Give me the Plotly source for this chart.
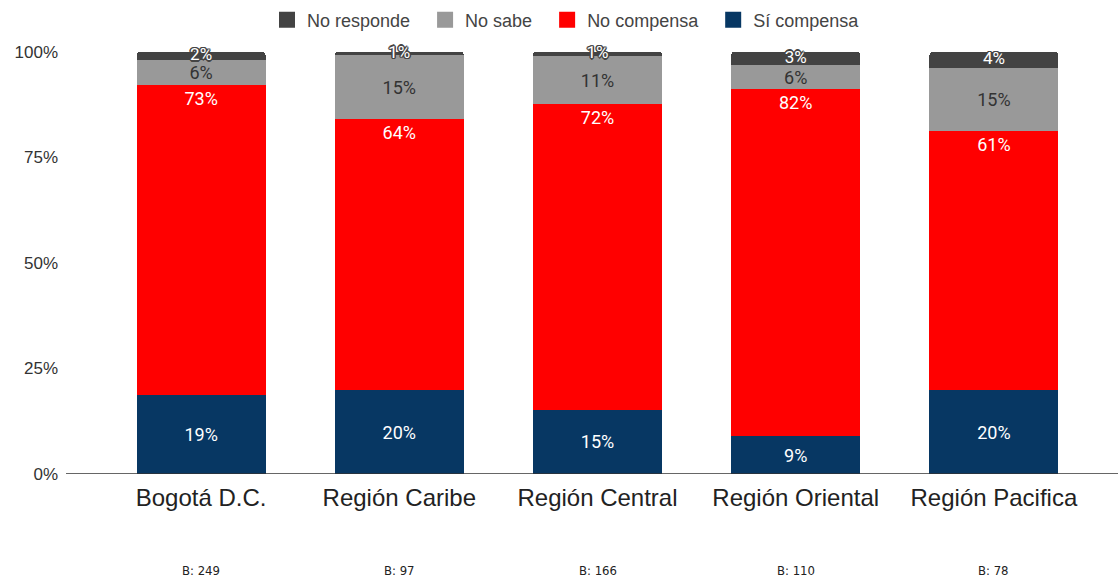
import plotly.graph_objects as go

categories = ["Bogotá D.C.", "Región Caribe", "Región Central", "Región Oriental", "Región Pacifica"]
bases = ["B: 249", "B: 97", "B: 166", "B: 110", "B: 78"]
si_compensa = [18.7, 19.9, 15.2, 9.0, 19.9]
no_compensa = [73.4, 64.2, 72.4, 82.2, 61.4]
no_sabe = [5.9, 15.2, 11.4, 5.7, 14.9]
no_responde = [2.0, 0.7, 1.0, 3.1, 3.8]

C_SI, C_NO, C_NS, C_NR = "#073763", "#ff0000", "#999999", "#434343"
LABEL_FONT = "Roboto"
LS = 18
fig = go.Figure()

fig.add_trace(go.Bar(
    x=categories, y=si_compensa, name="Sí compensa", showlegend=False,
    marker=dict(color=C_SI, line=dict(width=0)),
    texttemplate="%{y:.0f}%", textposition="inside", insidetextanchor="middle", textangle=0,
    insidetextfont=dict(family=LABEL_FONT, size=LS, color="white"),
))
fig.add_trace(go.Bar(
    x=categories, y=no_compensa, name="No compensa", showlegend=False,
    marker=dict(color=C_NO, line=dict(width=0)),
    texttemplate="%{y:.0f}%", textposition="inside", insidetextanchor="end", textangle=0,
    insidetextfont=dict(family=LABEL_FONT, size=LS, color="white"),
))
fig.add_trace(go.Bar(
    x=categories, y=no_sabe, name="No sabe", showlegend=False,
    marker=dict(color=C_NS, line=dict(width=0)),
    texttemplate="%{y:.0f}%", textposition="inside", insidetextanchor="middle", textangle=0,
    insidetextfont=dict(family=LABEL_FONT, size=LS, color="#333333"),
))
fig.add_trace(go.Bar(
    x=categories, y=no_responde, name="No responde", showlegend=False,
    marker=dict(color=C_NR, line=dict(width=0)),
    textposition="none",
))

# labels for the thin top segments, centred on the segment
mid_top = [a + b + c + d / 2 for a, b, c, d in zip(si_compensa, no_compensa, no_sabe, no_responde)]
shadow = ("1px 1px 0 #444, -1px -1px 0 #444, 1px -1px 0 #444, -1px 1px 0 #444, "
          "0 1.5px 0 #444, 0 -1.5px 0 #444, 1.5px 0 0 #444, -1.5px 0 0 #444")
fig.add_trace(go.Scatter(
    x=categories, y=mid_top, mode="text",
    text=[f"{v:.0f}%" for v in no_responde],
    textfont=dict(family=LABEL_FONT, size=17, color="white", shadow=shadow),
    showlegend=False, cliponaxis=False, hoverinfo="skip",
))

# legend entries (square swatches)
NB = "\u00a0\u00a0"
for name, col in [("No responde", C_NR), ("No sabe", C_NS), ("No compensa", C_NO), ("Sí compensa", C_SI)]:
    fig.add_trace(go.Scatter(
        x=[None], y=[None], mode="markers", name=name + NB,
        marker=dict(symbol="square", size=18, color=col, line=dict(width=0)),
        showlegend=True, hoverinfo="skip",
    ))

for c, b in zip(categories, bases):
    fig.add_annotation(x=c, y=-0.228, xref="x", yref="paper", text=b, showarrow=False,
                       font=dict(family="DejaVu Sans Condensed, Liberation Sans", size=13, color="#222"),
                       yanchor="middle")

fig.add_shape(type="line", xref="paper", yref="y", x0=-0.0363, x1=1.03, y0=0, y1=0,
              line=dict(color="#333333", width=1.3))

fig.update_layout(
    width=1118, height=579,
    barmode="stack", bargap=0.35, barcornerradius=3,
    uniformtext=dict(minsize=17, mode="show"),
    margin=dict(l=102, r=25, t=52, b=105, autoexpand=False),
    paper_bgcolor="white", plot_bgcolor="white",
    font=dict(family="Liberation Sans", color="#222"),
    showlegend=True,
    legend=dict(orientation="h", traceorder="normal",
                xref="container", x=267 / 1118, xanchor="left",
                yref="container", y=1 - 20 / 579, yanchor="middle",
                bgcolor="rgba(0,0,0,0)",
                font=dict(family="Liberation Sans", size=18, color="#444"),
                itemsizing="trace"),
    xaxis=dict(showgrid=False, showline=False, ticks="", ticklabelstandoff=7,
               range=[-0.5, 4.5],
               tickfont=dict(family="Liberation Sans", size=24, color="#222")),
    yaxis=dict(range=[0, 100], tickvals=[0, 25, 50, 75, 100],
               ticktext=["0%", "25%", "50%", "75%", "100%"],
               showgrid=False, zeroline=False, showline=False, ticks="",
               ticklabelstandoff=43,
               tickfont=dict(family="Liberation Sans", size=17, color="#333")),
)

fig.write_html("out.html", config={"displayModeBar": False},
               post_script="document.body.style.margin='0px';document.body.style.overflow='hidden';")
